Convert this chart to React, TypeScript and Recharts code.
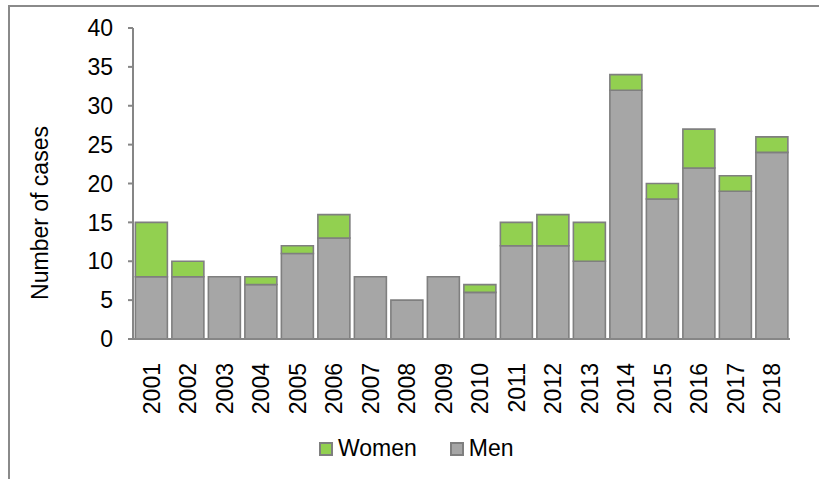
import React from 'react';
import { BarChart, Bar, XAxis, YAxis } from 'recharts';

const years = [
  '2001', '2002', '2003', '2004', '2005', '2006', '2007', '2008', '2009',
  '2010', '2011', '2012', '2013', '2014', '2015', '2016', '2017', '2018',
];
const men = [8, 8, 8, 7, 11, 13, 8, 5, 8, 6, 12, 12, 10, 32, 18, 22, 19, 24];
const women = [7, 2, 0, 1, 1, 3, 0, 0, 0, 1, 3, 4, 5, 2, 2, 5, 2, 2];
const yTicks = [0, 5, 10, 15, 20, 25, 30, 35, 40];

const series = [
  { key: 'Men', color: '#a6a6a6' },
  { key: 'Women', color: '#92d050' },
];

const FONT = '"Liberation Sans", Arial, sans-serif';
const FS = 23;
const AXIS = '#868686';

const chartData = years.map((year, i) => ({ year, Men: men[i], Women: women[i] }));

const YearTick = (props: any) => {
  const { x, y, payload } = props;
  const ty = y + 16;
  return (
    <text
      x={x}
      y={ty}
      transform={`rotate(-90, ${x}, ${ty})`}
      textAnchor="end"
      dy="0.36em"
      fontSize={FS}
      fontFamily={FONT}
      fill="#000"
    >
      {payload.value}
    </text>
  );
};

const AxisTitle = () => (
  <text
    x={48}
    y={213}
    transform="rotate(-90, 48, 213)"
    textAnchor="middle"
    fontSize={FS}
    fontFamily={FONT}
    fill="#000"
  >
    Number of cases
  </text>
);

export default function App() {
  return (
    <div
      style={{
        position: 'absolute',
        left: 0,
        top: 0,
        width: 819,
        height: 479,
        overflow: 'hidden',
        background: '#fff',
        fontFamily: FONT,
      }}
    >
      <div
        style={{
          position: 'absolute',
          left: 8,
          top: 5,
          width: 811,
          height: 474,
          borderLeft: '2px solid #8a8a8a',
          borderTop: '2px solid #8a8a8a',
        }}
      />
      <div style={{ position: 'absolute', left: 0, top: 0 }}>
        <BarChart
          width={819}
          height={479}
          data={chartData}
          margin={{ top: 28, right: 29, bottom: 0, left: 0 }}
          barCategoryGap="6.5%"
        >
          <XAxis
            dataKey="year"
            height={140}
            interval={0}
            tickLine={false}
            axisLine={{ stroke: AXIS, strokeWidth: 2 }}
            tick={<YearTick />}
          />
          <YAxis
            width={133}
            domain={[0, 40]}
            ticks={yTicks}
            interval={0}
            tickSize={5}
            tickMargin={15}
            axisLine={{ stroke: AXIS, strokeWidth: 2 }}
            tickLine={{ stroke: AXIS, strokeWidth: 2 }}
            tick={{ fill: '#000', fontSize: FS, fontFamily: FONT }}
            label={{ content: () => <AxisTitle /> }}
          />
          {series.map((s) => (
            <Bar
              key={s.key}
              dataKey={s.key}
              stackId="a"
              fill={s.color}
              stroke="#7f7f7f"
              strokeWidth={1.6}
              isAnimationActive={false}
            />
          ))}
        </BarChart>
      </div>
      <div
        style={{
          position: 'absolute',
          left: 319,
          top: 435,
          display: 'flex',
          alignItems: 'center',
          fontSize: FS,
          color: '#000',
        }}
      >
        {[...series].reverse().map((s, i) => (
          <div
            key={s.key}
            style={{ display: 'flex', alignItems: 'center', marginLeft: i === 0 ? 0 : 33 }}
          >
            <span
              style={{
                display: 'inline-block',
                width: 10,
                height: 10,
                background: s.color,
                border: '2px solid #7f7f7f',
                marginRight: 5,
              }}
            />
            <span>{s.key}</span>
          </div>
        ))}
      </div>
    </div>
  );
}
